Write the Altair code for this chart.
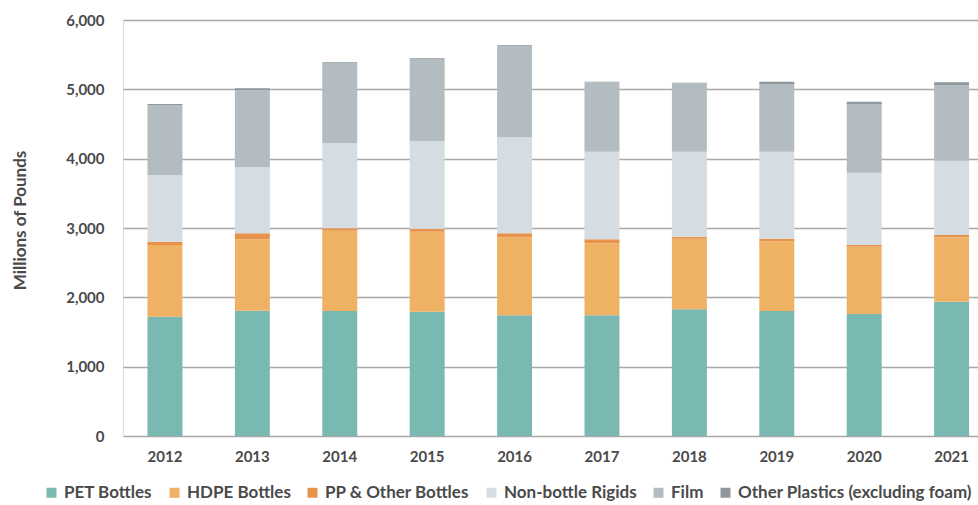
import altair as alt
import pandas as pd

years = ["2012", "2013", "2014", "2015", "2016", "2017", "2018", "2019", "2020", "2021"]
categories = ["PET Bottles", "HDPE Bottles", "PP & Other Bottles", "Non-bottle Rigids", "Film",
              "Other Plastics (excluding foam)"]
pet = [1721, 1808, 1803, 1793, 1741, 1741, 1827, 1803, 1760, 1937]
hdpe = [1034, 1029, 1158, 1154, 1125, 1038, 1019, 1005, 970, 929]
pp = [48, 87, 35, 39, 58, 58, 29, 38, 25, 33]
rigids = [962, 951, 1226, 1269, 1384, 1264, 1226, 1255, 1043, 1072]
film = [1009, 1115, 1158, 1183, 1322, 1000, 985, 976, 986, 1092]
other = [15, 25, 10, 10, 10, 10, 10, 34, 38, 38]
colors = ["#79B9B1", "#EFB163", "#E8934B", "#D6DDE2", "#B3BCC0", "#8D979C"]

series = [pet, hdpe, pp, rigids, film, other]
rows = []
for ci, (cat, vals) in enumerate(zip(categories, series)):
    for y, v in zip(years, vals):
        rows.append({"Year": y, "Category": cat, "Value": v, "Order": ci})
df = pd.DataFrame(rows)

font = "Lato"
text_color = "#4A4A4A"

chart = alt.Chart(df).mark_bar().encode(
    x=alt.X("Year:N", sort=years,
            scale=alt.Scale(paddingInner=0.6, paddingOuter=0.191, align=0.733),
            axis=alt.Axis(title=None, labelAngle=0, ticks=False, domain=False,
                          labelPadding=13, labelFontSize=15, labelFont=font,
                          labelFontWeight="bold", labelColor=text_color)),
    y=alt.Y("Value:Q", stack="zero",
            scale=alt.Scale(domain=[0, 6000]),
            axis=alt.Axis(title="Millions of Pounds", values=[0, 1000, 2000, 3000, 4000, 5000, 6000],
                          format=",.0f", ticks=False, domain=False, labelPadding=19,
                          labelFontSize=15, labelFont=font, labelFontWeight="bold",
                          labelColor=text_color, grid=True, gridColor="#A8A8A8",
                          gridWidth=1.5, titleFont=font, titleFontSize=17,
                          titleFontWeight="bold", titleColor=text_color,
                          titleX=-103, titleY=200, titleAngle=-90,
                          titleBaseline="middle", titleAlign="center")),
    color=alt.Color("Category:N",
                    scale=alt.Scale(domain=categories, range=colors),
                    legend=alt.Legend(title=None, orient="none", direction="horizontal",
                                      legendX=-80, legendY=464, symbolType="square",
                                      symbolSize=100, symbolStrokeWidth=0, labelFont=font,
                                      labelFontSize=17, labelFontWeight="bold",
                                      labelColor=text_color, labelOffset=4,
                                      labelLimit=500, columnPadding=13)),
    order=alt.Order("Order:Q", sort="ascending"),
).properties(
    width=855, height=416,
    autosize=alt.AutoSizeParams(type="none"),
    padding={"left": 123, "top": 20, "right": 0, "bottom": 69},
).configure_view(stroke=None).configure(background="white")

chart.save("out.html", embed_options={"renderer": "svg", "actions": False})
